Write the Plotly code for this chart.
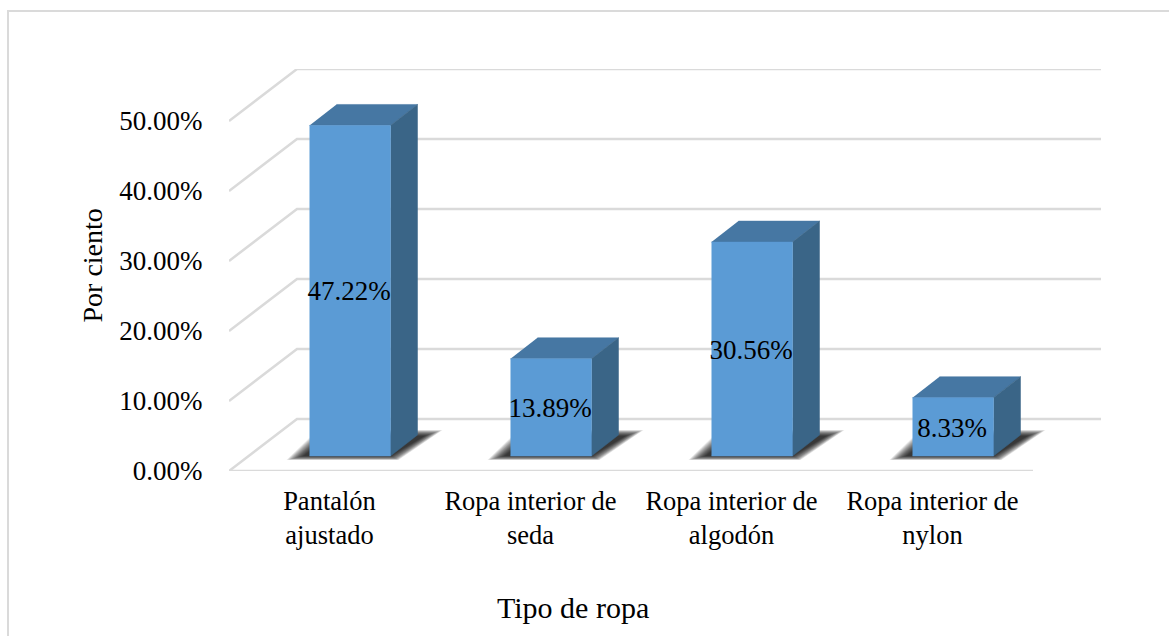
import plotly.graph_objects as go

categories = ["Pantalón<br>ajustado", "Ropa interior de<br>seda", "Ropa interior de<br>algodón", "Ropa interior de<br>nylon"]
values = [47.22, 13.89, 30.56, 8.33]
y_ticks = [0, 10, 20, 30, 40, 50]
y_labels = ["0.00%", "10.00%", "20.00%", "30.00%", "40.00%", "50.00%"]

# pixel scale of the axes
PX_X = 201.0
PX_Y = 7.0
L, R, T, B = 229, 67, 69, 165
W, H = 1169, 636
XR = [-0.5, -0.5 + (W - L - R) / PX_X]
YR = [0, (H - T - B) / PX_Y]

WALL_DX, WALL_DY = 68 / PX_X, 52 / PX_Y
AX_END = 3.5
BAR_OFF = 20.5 / PX_X
BAR_HALF = 40.5 / PX_X
BAR_BASE = 15 / PX_Y
D_DX, D_DY = 27 / PX_X, 21 / PX_Y
LABEL_SHIFT_Y = 3 / PX_Y
LABEL_SHIFT_X = 1 / PX_X

GRID = "#DADADA"
FRONT, SIDE, TOP = "#5B9BD5", "#3A6587", "#4677A3"
FONT = "Liberation Serif"

# Shadow outline as pixel offsets from the bar's base corners
SHADOW_OUTER = [(-23, -4), (8, -4), (52, 26), (8, 26)]
SHADOW_INNER = [(-6, 0), (0, 0), (34, 20), (20, 20)]
SHADOW_LAYERS = 16
SHADOW_ALPHA = 0.085

fig = go.Figure()


def poly(xs, ys, color, edge=0):
    fig.add_trace(go.Scatter(x=xs, y=ys, mode="lines", fill="toself", fillcolor=color,
                             line=dict(width=edge, color=color), hoverinfo="skip",
                             showlegend=False, cliponaxis=False))


# Back wall grid lines with the left-hand diagonals
for t in y_ticks:
    fig.add_trace(go.Scatter(x=[-0.5, -0.5 + WALL_DX, AX_END + WALL_DX],
                             y=[t, t + WALL_DY, t + WALL_DY], mode="lines",
                             line=dict(color=GRID, width=2.5), hoverinfo="skip", showlegend=False, cliponaxis=False))
# Floor front edge
fig.add_trace(go.Scatter(x=[-0.5, AX_END], y=[0, 0], mode="lines",
                         line=dict(color=GRID, width=2.5), hoverinfo="skip", showlegend=False, cliponaxis=False))

# Bars
for i, v in enumerate(values):
    x0 = i + BAR_OFF - BAR_HALF
    x1 = i + BAR_OFF + BAR_HALF
    b = BAR_BASE
    t = BAR_BASE + v
    # soft floor shadow: nested translucent shapes
    for k in range(SHADOW_LAYERS):
        f = k / (SHADOW_LAYERS - 1)
        pts = [(o[0] + (n[0] - o[0]) * f, o[1] + (n[1] - o[1]) * f)
               for o, n in zip(SHADOW_OUTER, SHADOW_INNER)]
        anchors = [x0, x1, x1, x0]
        poly([a + p[0] / PX_X for a, p in zip(anchors, pts)],
             [b + p[1] / PX_Y for p in pts],
             f"rgba(0,0,0,{SHADOW_ALPHA})")
    poly([x0, x1, x1 + D_DX, x0 + D_DX], [t, t, t + D_DY, t + D_DY], TOP, 0.5)
    poly([x1, x1 + D_DX, x1 + D_DX, x1], [b, b + D_DY, t + D_DY, t], SIDE, 0.5)
    poly([x0, x1, x1, x0], [b, b, t, t], FRONT, 0.5)

# Data labels
fig.add_trace(go.Scatter(
    x=[i + BAR_OFF - LABEL_SHIFT_X for i in range(len(values))],
    y=[BAR_BASE + v / 2 - LABEL_SHIFT_Y for v in values],
    text=[f"{v:.2f}%" for v in values],
    mode="text", textposition="middle center",
    textfont=dict(family=FONT, size=27, color="#000000"),
    hoverinfo="skip", showlegend=False, cliponaxis=False))


def px(x):
    return (x - L) / (W - L - R)


def py(y):
    return (H - B - y) / (H - T - B)


fig.update_layout(
    width=W, height=H, autosize=False,
    margin=dict(l=L, r=R, t=T, b=B, pad=0),
    paper_bgcolor="white", plot_bgcolor="rgba(0,0,0,0)",
    font=dict(family=FONT, color="#000000"),
    showlegend=False,
    xaxis=dict(range=XR, tickmode="array", tickvals=list(range(len(categories))), ticktext=categories,
               showgrid=False, zeroline=False, showline=False, ticks="outside", ticklen=6,
               tickcolor="rgba(0,0,0,0)", tickfont=dict(family=FONT, size=26.5), fixedrange=True),
    yaxis=dict(range=YR, tickmode="array", tickvals=y_ticks, ticktext=y_labels,
               showgrid=False, zeroline=False, showline=False, ticks="outside", ticklen=20,
               tickcolor="rgba(0,0,0,0)", tickfont=dict(family=FONT, size=27), fixedrange=True),
    shapes=[dict(type="path", xref="paper", yref="paper",
                 path=f"M {px(8)} {py(636)} L {px(8)} {py(11)} L {px(1169)} {py(11)}",
                 line=dict(color=GRID, width=2), layer="below")],
    annotations=[
        dict(text="Tipo de ropa", xref="paper", yref="paper", x=px(573), y=py(607),
             xanchor="center", yanchor="middle", showarrow=False,
             font=dict(family=FONT, size=30)),
        dict(text="Por ciento", xref="paper", yref="paper", x=px(92), y=py(265.5), textangle=-90,
             xanchor="center", yanchor="middle", showarrow=False,
             font=dict(family=FONT, size=28)),
    ],
)

fig.write_html("out.html", post_script="document.body.style.margin='0';",
               config=dict(displayModeBar=False))
